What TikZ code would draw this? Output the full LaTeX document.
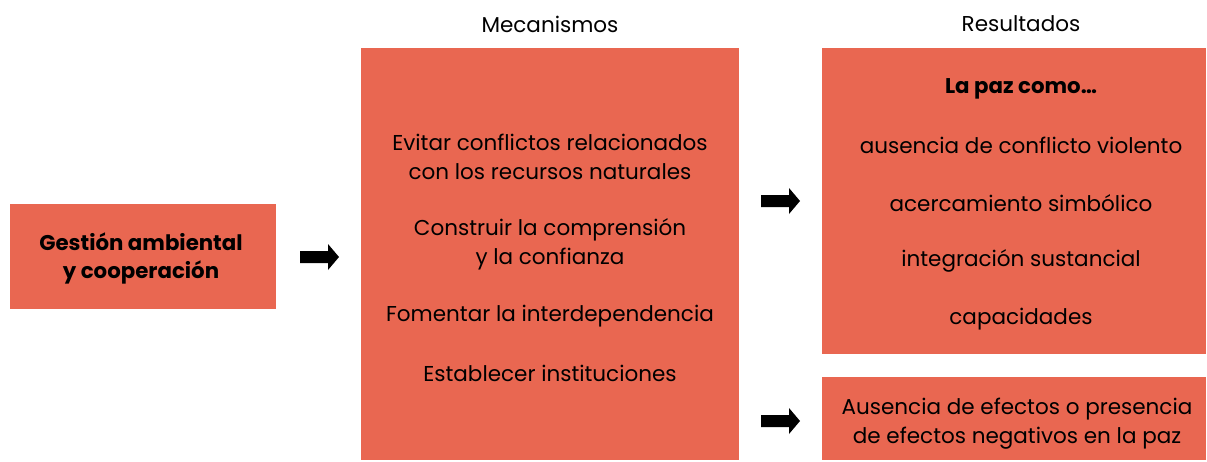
\documentclass[tikz,border=0pt]{standalone}
\usepackage{fontspec}
\setmainfont{Poppins}
\definecolor{boxred}{HTML}{E96751}
\begin{document}
\begin{tikzpicture}[x=1pt,y=-1pt,
  box/.style={fill=boxred,draw=none},
  txt/.style={font=\fontsize{21.5}{29}\selectfont,align=center,text=black,inner sep=0pt},
  bold/.style={txt,font=\fontsize{21.3}{28}\selectfont\bfseries},
  head/.style={txt},
  blockarrow/.style={fill=black}]
\useasboundingbox (0,0) rectangle (1207,461);
\fill[box] (10,204) rectangle (276,309);
\fill[box] (361,48) rectangle (739,460);
\fill[box] (822,48) rectangle (1206,354);
\fill[box] (822,377) rectangle (1206,460);
\node[head] (mh) at (550,24) {Mecanismos};
\node[head] (rh) at (1021,24) {Resultados};
\node[bold] (g) at (141,258) {Gestión ambiental\\y cooperación};
\node[txt] (m1) at (550,157) {Evitar conflictos relacionados\\con los recursos naturales};
\node[txt] (m2) at (550,244) {Construir la comprensión\\y la confianza};
\node[txt] (m3) at (550,316) {Fomentar la interdependencia};
\node[txt] (m4) at (550,373) {Establecer instituciones};
\node[bold] (r0) at (1021,89) {La paz como…};
\node[txt] (r1) at (1021,145) {ausencia de conflicto violento};
\node[txt] (r2) at (1021,203) {acercamiento simbólico};
\node[txt] (r3) at (1021,261) {integración sustancial};
\node[txt] (r4) at (1021,319) {capacidades};
\node[txt] (r5) at (1017,424) {Ausencia de efectos o presencia\\de efectos negativos en la paz};
\coordinate (a1) at (300,257);
\coordinate (a2) at (761,201);
\coordinate (a3) at (761,421);
\foreach \a in {a1,a2,a3}{
  \fill[blockarrow] (\a) ++(0,-6) -- ++(28,0) -- ++(0,-7) -- ++(11,13) -- ++(-11,13) -- ++(0,-7) -- ++(-28,0) -- cycle;
}
\end{tikzpicture}
\end{document}
